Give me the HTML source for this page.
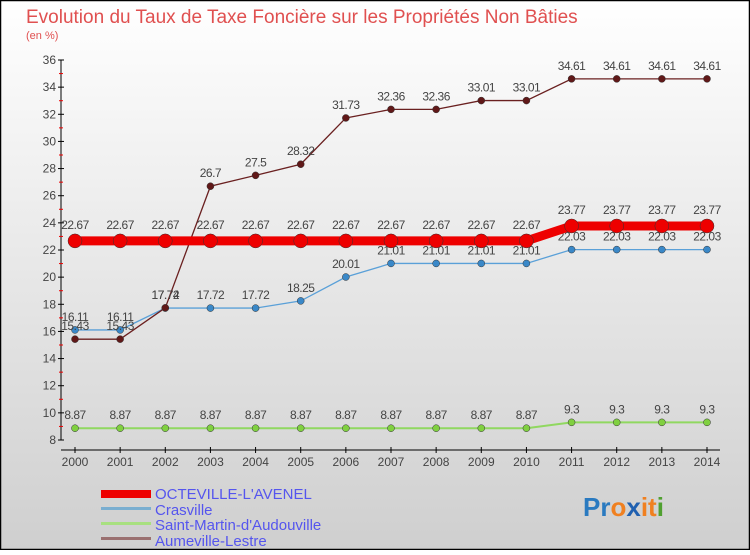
<!DOCTYPE html>
<html><head><meta charset="utf-8"><style>
body{margin:0;width:750px;height:550px;overflow:hidden;font-family:"Liberation Sans",sans-serif}
</style></head><body>
<svg width="750" height="550" xmlns="http://www.w3.org/2000/svg">
<defs><linearGradient id="bg" x1="0" y1="0" x2="0" y2="1"><stop offset="0" stop-color="#ffffff"/><stop offset="1" stop-color="#cfcfcf"/></linearGradient></defs>
<rect x="0.5" y="0.5" width="749" height="549" fill="url(#bg)" stroke="#000" stroke-width="1.5"/>
<text x="26" y="23" font-size="19" fill="#e05050">Evolution du Taux de Taxe Foncière sur les Propriétés Non Bâties</text>
<text x="26" y="39" font-size="11" fill="#e05050">(en %)</text>
<g id="axes"></g>
<g id="series"></g>
<g>
<rect x="101" y="490" width="50" height="8" fill="#ee0000"/>
<text x="155" y="499" font-size="15" fill="#5555ee">OCTEVILLE-L'AVENEL</text>
<rect x="101" y="507" width="50" height="3" fill="#7aaed0"/>
<text x="155" y="515" font-size="15" fill="#5555ee">Crasville</text>
<rect x="101" y="522" width="50" height="3" fill="#a8e080"/>
<text x="155" y="530" font-size="15" fill="#5555ee">Saint-Martin-d'Audouville</text>
<rect x="101" y="537" width="50" height="3" fill="#9a7070"/>
<text x="155" y="546" font-size="15" fill="#5555ee">Aumeville-Lestre</text>
</g>
<text x="583" y="516" font-size="26" font-weight="bold"><tspan fill="#2a7ac0">Pr</tspan><tspan fill="#f08020">o</tspan><tspan fill="#2060b0">x</tspan><tspan fill="#f08020">it</tspan><tspan fill="#50a030">i</tspan></text>
</svg>
<script>
const years=[2000,2001,2002,2003,2004,2005,2006,2007,2008,2009,2010,2011,2012,2013,2014];
const octeville=[22.67,22.67,22.67,22.67,22.67,22.67,22.67,22.67,22.67,22.67,22.67,23.77,23.77,23.77,23.77];
const crasville=[16.11,16.11,17.72,17.72,17.72,18.25,20.01,21.01,21.01,21.01,21.01,22.03,22.03,22.03,22.03];
const saintMartin=[8.87,8.87,8.87,8.87,8.87,8.87,8.87,8.87,8.87,8.87,8.87,9.3,9.3,9.3,9.3];
const aumeville=[15.43,15.43,17.74,26.7,27.5,28.32,31.73,32.36,32.36,33.01,33.01,34.61,34.61,34.61,34.61];
const yTicks=[8,10,12,14,16,18,20,22,24,26,28,30,32,34,36];
const NS="http://www.w3.org/2000/svg";
const xs=i=>75+i*(632/(years.length-1));
const ys=v=>440-(v-8)*(380/28);
function mk(t,a,p){const e=document.createElementNS(NS,t);for(const k in a)e.setAttribute(k,a[k]);p.appendChild(e);return e;}
const ax=document.getElementById('axes');
mk('line',{x1:61,y1:60,x2:61,y2:440,stroke:'#000','stroke-width':1},ax);
mk('line',{x1:61,y1:450,x2:720,y2:450,stroke:'#000','stroke-width':1},ax);
yTicks.forEach(v=>{const y=ys(v);
mk('line',{x1:58,y1:y,x2:64,y2:y,stroke:'#000'},ax);
if(v<36)mk('line',{x1:59,y1:ys(v+1),x2:63,y2:ys(v+1),stroke:'#e00'},ax);
const t=mk('text',{x:56,y:y+4,'text-anchor':'end','font-size':12,fill:'#444'},ax);t.textContent=v;

});
years.forEach((yr,i)=>{const x=xs(i);
mk('line',{x1:x,y1:447,x2:x,y2:453,stroke:'#000'},ax);
const t=mk('text',{x:x,y:466,'text-anchor':'middle','font-size':12,fill:'#444'},ax);t.textContent=yr;

});
const sg=document.getElementById('series');
function series(vals,name,color,w,r,lbl,dy){
const g=mk('g',{},sg);


mk('polyline',{points:vals.map((v,i)=>xs(i)+','+ys(v)).join(' '),fill:'none',stroke:color,'stroke-width':w},g);
vals.forEach((v,i)=>{const c=mk('circle',{cx:xs(i),cy:ys(v),r:r,fill:lbl,stroke:'#333','stroke-width':0.5},g);


const t=mk('text',{x:xs(i),y:ys(v)-dy,'text-anchor':'middle','font-size':12,fill:'#444','letter-spacing':'-0.5'},g);
t.textContent=String(v).replace('.', '.');

});}
series(saintMartin,'saint-martin','#90d860',2,3.5,'#80d040',9);
series(crasville,'crasville','#5aa0d8',1.3,3.5,'#3a88c8',9);
series(aumeville,'aumeville','#6a2020',1.3,3.5,'#601818',9);
series(octeville,'octeville','#ee0000',9,7,'#ee0000',12);
</script>
</body></html>
